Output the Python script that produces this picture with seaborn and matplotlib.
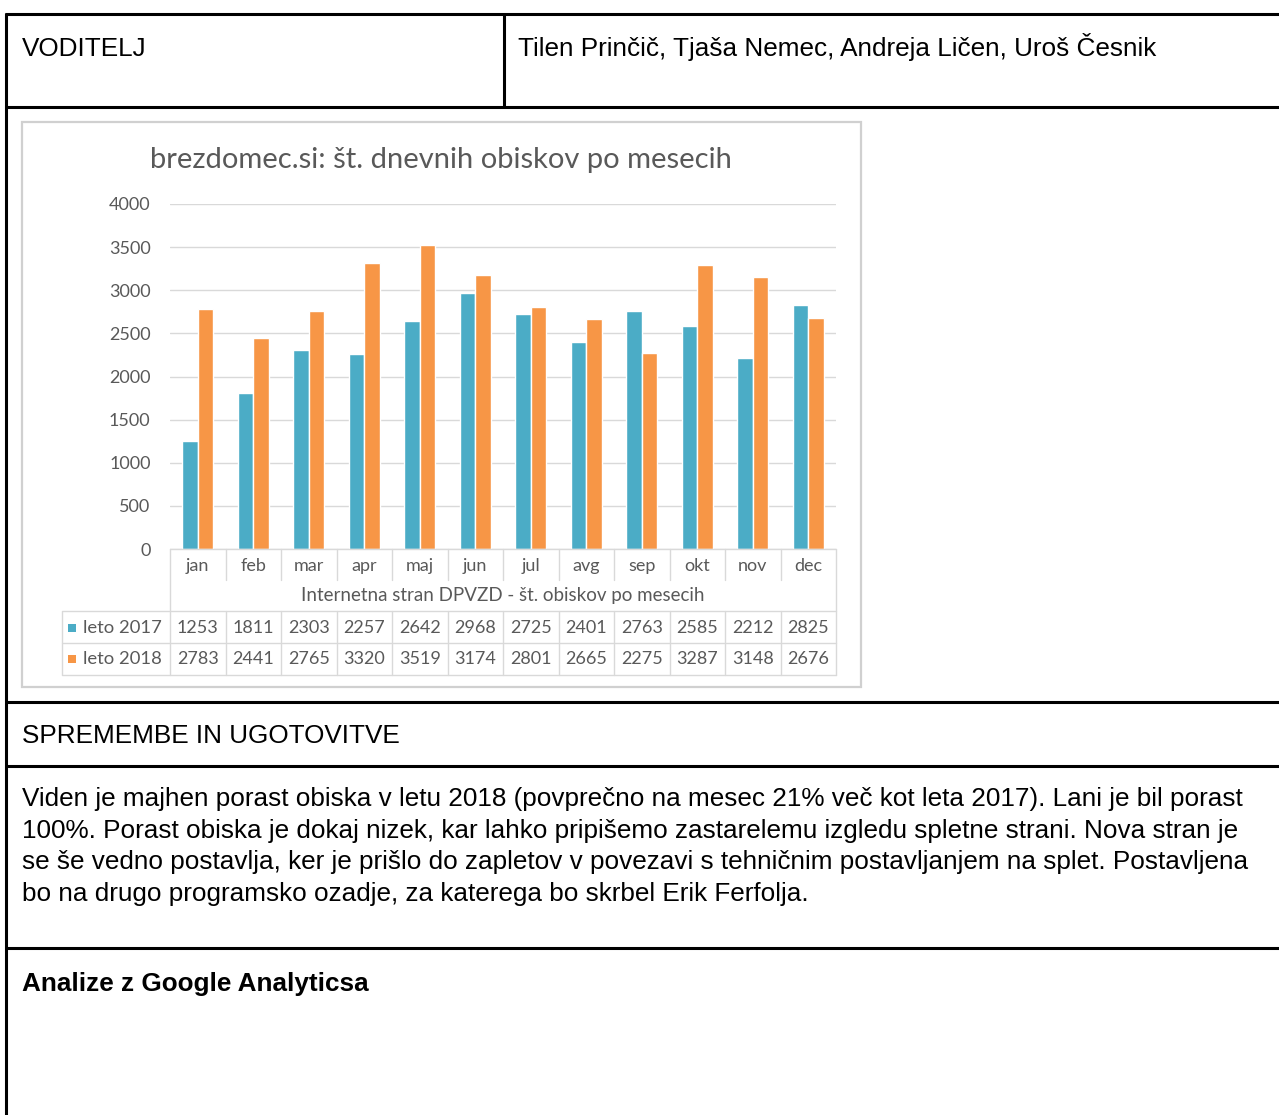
import matplotlib
matplotlib.use("Agg")
import matplotlib.pyplot as plt
import matplotlib.transforms as mtransforms
from matplotlib.lines import Line2D
from matplotlib.patches import Rectangle
import pandas as pd
import seaborn as sns

# Data
meseci = ["jan", "feb", "mar", "apr", "maj", "jun", "jul", "avg", "sep", "okt", "nov", "dec"]
leto_2017 = [1253, 1811, 2303, 2257, 2642, 2968, 2725, 2401, 2763, 2585, 2212, 2825]
leto_2018 = [2783, 2441, 2765, 3320, 3519, 3174, 2801, 2665, 2275, 3287, 3148, 2676]
serije = ["leto 2017", "leto 2018"]
y_ticks = [0, 500, 1000, 1500, 2000, 2500, 3000, 3500, 4000]

naslov = "brezdomec.si: št. dnevnih obiskov po mesecih"
podnaslov = "Internetna stran DPVZD - št. obiskov po mesecih"
voditelj = "VODITELJ"
imena = "Tilen Prinčič, Tjaša Nemec, Andreja Ličen, Uroš Česnik"
spremembe = "SPREMEMBE IN UGOTOVITVE"
besedilo = [
    "Viden je majhen porast obiska v letu 2018 (povprečno na mesec 21% več kot leta 2017). Lani je bil porast",
    "100%. Porast obiska je dokaj nizek, kar lahko pripišemo zastarelemu izgledu spletne strani. Nova stran je",
    "se še vedno postavlja, ker je prišlo do zapletov v povezavi s tehničnim postavljanjem na splet. Postavljena",
    "bo na drugo programsko ozadje, za katerega bo skrbel Erik Ferfolja.",
]
analize = "Analize z Google Analyticsa"

df = pd.DataFrame({
    "mesec": meseci * 2,
    "obiski": leto_2017 + leto_2018,
    "leto": [serije[0]] * 12 + [serije[1]] * 12,
})

BLUE = "#4BACC6"
ORANGE = "#F79646"
GREY_TXT = "#595959"
GRID = "#d9d9d9"

W, H = 1279, 1115
sns.set_style("white")
plt.rcParams["font.family"] = ["Liberation Sans", "DejaVu Sans"]
plt.rcParams["text.color"] = "black"

fig = plt.figure(figsize=(W / 100, H / 100), dpi=100)


def fx(px):
    return px / W


def fy(py):
    return 1 - py / H


def hline(y, x0=5, x1=W, color="black", lw=2.2):
    fig.add_artist(Line2D([fx(x0), fx(x1)], [fy(y), fy(y)], color=color, lw=lw,
                          transform=fig.transFigure, solid_capstyle="butt"))


def vline(x, y0, y1, color="black", lw=2.2):
    fig.add_artist(Line2D([fx(x), fx(x)], [fy(y0), fy(y1)], color=color, lw=lw,
                          transform=fig.transFigure, solid_capstyle="butt"))


# document table borders
hline(13.5, x0=5)
hline(106.5, x0=5)
hline(702, x0=5)
hline(765.5, x0=5)
hline(948, x0=5)
vline(6, 12.5, H)
vline(503.5, 12.5, 107.5)

doc_size = 18.8
fig.text(fx(22), fy(56), voditelj, fontsize=doc_size, va="baseline", color="black")
fig.text(fx(518), fy(56), imena, fontsize=doc_size, va="baseline", color="black")
fig.text(fx(22), fy(743), spremembe, fontsize=doc_size, va="baseline", color="black")
for i, line in enumerate(besedilo):
    fig.text(fx(22), fy(806 + i * 31.7), line, fontsize=doc_size, va="baseline", color="black")
fig.text(fx(22), fy(991), analize, fontsize=doc_size, va="baseline", fontweight="bold",
         color="black")

# chart image frame
fig.add_artist(Rectangle((fx(22), fy(687)), fx(861) - fx(22), fy(122) - fy(687),
                         transform=fig.transFigure, fill=False, edgecolor="#d0d0d0", lw=1.6))

chart_font = ["Lato", "DejaVu Sans"]
fig.text(fx(441), fy(160), naslov, fontsize=21, color=GREY_TXT, ha="center", va="center",
         family=chart_font)

# bar chart axes
ax = fig.add_axes([fx(170), fy(549), fx(836) - fx(170), fy(204) - fy(549)])
sns.barplot(data=df, x="mesec", y="obiski", hue="leto", palette=[BLUE, ORANGE],
            width=0.56, gap=0, saturation=1, legend=False, ax=ax)
ax.set_xlim(-0.5, len(meseci) - 0.5)
ax.set_ylim(0, 4000)
ax.set_yticks(y_ticks)
ax.set_yticklabels([str(t) for t in y_ticks], family=chart_font, fontsize=13, color=GREY_TXT)
ax.tick_params(axis="y", length=0, pad=14)
ax.set_xticks([])
ax.set_xlabel("")
ax.set_ylabel("")
for s in ax.spines.values():
    s.set_visible(False)
ax.grid(axis="y", color=GRID, lw=1)
ax.set_axisbelow(True)

# data table under the chart
tr = mtransforms.blended_transform_factory(ax.transData, fig.transFigure)
n = len(meseci)


def tline(xs, ys):
    ax.add_line(Line2D(xs, ys, color=GRID, lw=1, transform=tr, clip_on=False))


tline([-0.5, n - 0.5], [fy(549), fy(549)])
for i, m in enumerate(meseci):
    ax.text(i, fy(566), m, transform=tr, ha="center", va="center", fontsize=13,
            color=GREY_TXT, family=chart_font)
    ax.text(i, fy(628), str(leto_2017[i]), transform=tr, ha="center", va="center",
            fontsize=13, color=GREY_TXT, family=chart_font)
    ax.text(i, fy(659), str(leto_2018[i]), transform=tr, ha="center", va="center",
            fontsize=13, color=GREY_TXT, family=chart_font)
for i in range(1, n):
    tline([i - 0.5, i - 0.5], [fy(549), fy(580)])
    tline([i - 0.5, i - 0.5], [fy(611), fy(675)])
tline([-0.5, -0.5], [fy(549), fy(675)])
tline([n - 0.5, n - 0.5], [fy(549), fy(675)])
ax.text((n - 1) / 2, fy(596), podnaslov, transform=tr, ha="center", va="center",
        fontsize=13.5, color=GREY_TXT, family=chart_font)

for y in [611, 643, 675]:
    fig.add_artist(Line2D([fx(62), fx(836)], [fy(y), fy(y)], color=GRID, lw=1,
                          transform=fig.transFigure))
vline(62, 611, 675, color=GRID, lw=1)

for y, name, col in [(628, serije[0], BLUE), (659, serije[1], ORANGE)]:
    fig.add_artist(Rectangle((fx(68), fy(y + 4)), fx(8), fx(8) * W / H,
                             transform=fig.transFigure, color=col, lw=0))
    fig.text(fx(83), fy(y), name, fontsize=13.3, color=GREY_TXT,
             va="center", family=chart_font)

fig.savefig("out.png", dpi=100)
